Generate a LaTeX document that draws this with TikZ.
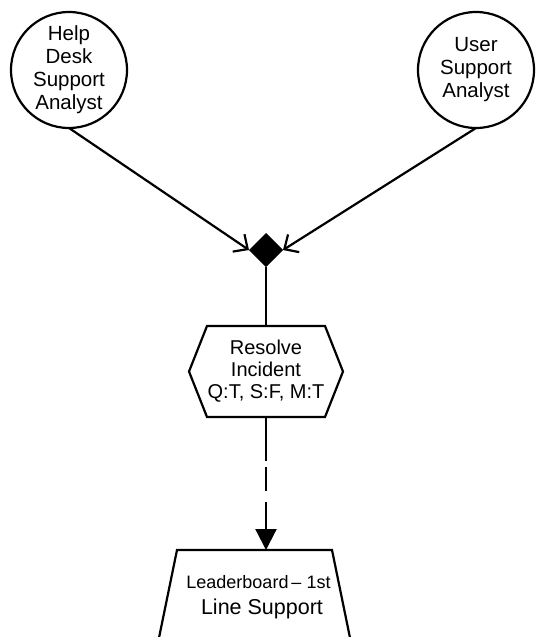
\documentclass[tikz,border=0pt]{standalone}
\usepackage{fontspec}
\setmainfont{Liberation Sans}
\usetikzlibrary{arrows.meta,shapes.geometric,calc}

\tikzset{
  outline/.style={line width=2.2pt, line join=miter},
  actor/.style={circle, draw, outline, minimum size=116pt, inner sep=0pt, outer sep=0pt,
    align=center, font=\fontsize{20.5}{23}\selectfont},
  junction/.style={diamond, fill=black, draw=none, minimum width=34pt, minimum height=34pt,
    inner sep=0pt, outer sep=0pt},
  procbox/.style={minimum width=154pt, minimum height=91pt, inner sep=0pt, outer sep=0pt,
    align=center, font=\fontsize{20}{22}\selectfont},
  smalllabel/.style={inner sep=0pt, font=\fontsize{18}{20}\selectfont},
  biglabel/.style={inner sep=0pt, font=\fontsize{21.5}{23}\selectfont},
  flow/.style={line width=2.2pt},
  barb/.style={-{Straight Barb[length=11pt,width=21pt]}},
  solidtip/.style={-{Triangle[length=21pt,width=21pt]}},
}

\begin{document}
\begin{tikzpicture}[x=1pt,y=-1pt]
  \clip (0,0) rectangle (536,637);

  % roles
  \node[actor] (hd) at (69,70) {Help\\Desk\\Support\\Analyst};
  \node[actor] (us) at (476,70) {User\\Support\\Analyst};

  % joining point
  \node[junction] (j) at (266,250) {};

  % activity
  \node[procbox] (res) at (266,371.5) {Resolve\\Incident\\Q:T, S:F, M:T};
  \draw[outline] (res.west) -- ([xshift=18pt]res.north west) -- ([xshift=-18pt]res.north east)
    -- (res.east) -- ([xshift=-18pt]res.south east) -- ([xshift=18pt]res.south west) -- cycle;

  % leaderboard
  \coordinate (lbtop) at (266,550);
  \coordinate (lbtl) at (177,550);
  \coordinate (lbtr) at (332,550);
  \draw[outline] ($(lbtl)+(-20.5,100)$) -- (lbtl) -- (lbtr) -- ($(lbtr)+(20.5,100)$);
  \node[smalllabel] (lb1) at (258.5,582) {Leaderboard\,–\ 1st};
  \node[biglabel] (lb2) at (262,609) {Line Support};

  % connectors
  \draw[flow, barb] (hd.south) -- (j.west);
  \draw[flow, barb] (us.south) -- (j.east);
  \draw[flow] (j.south) -- (res.north);
  \draw[flow, solidtip, dash pattern=on 44pt off 6pt on 24pt off 11pt on 80pt] (res.south) -- (lbtop);
\end{tikzpicture}
\end{document}
